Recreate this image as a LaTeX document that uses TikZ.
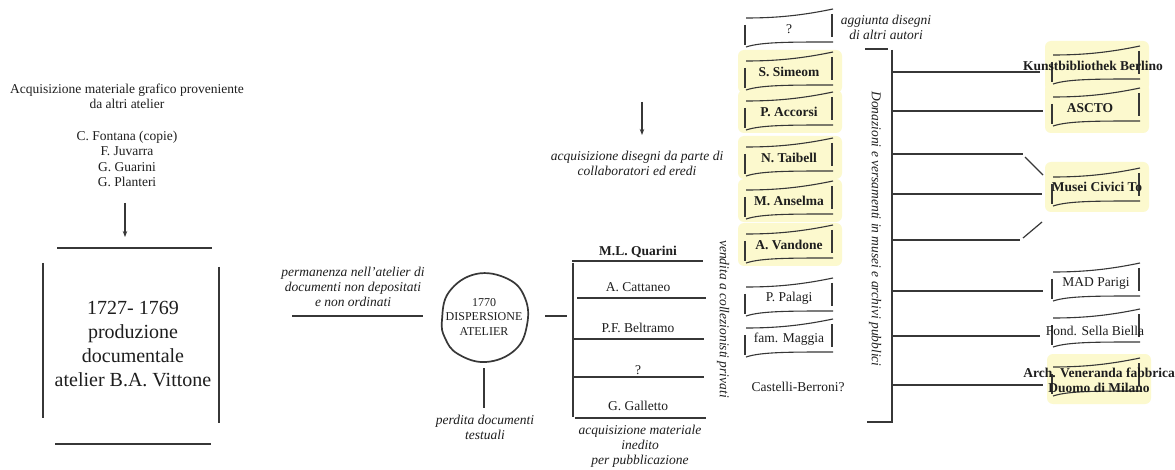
\documentclass[tikz,border=0pt]{standalone}
\usepackage{fontspec}
\setmainfont{Liberation Serif}
\usetikzlibrary{arrows.meta}
\definecolor{ink}{RGB}{30,30,30}
\definecolor{lnc}{RGB}{55,55,55}
\definecolor{hl}{RGB}{252,249,206}
\tikzset{
  txt/.style={font=\fontsize{13.5}{15.3}\selectfont, text=ink, inner sep=0pt, align=center},
  ittxt/.style={txt, font=\fontsize{13.5}{14.8}\selectfont\itshape},
  bftxt/.style={txt, font=\fontsize{13.5}{15}\selectfont\bfseries},
  bigtxt/.style={txt, font=\fontsize{20}{24}\selectfont},
  circtxt/.style={txt, font=\fontsize{12}{14.5}\selectfont},
  ln/.style={draw=lnc, line width=1.2pt},
  thick ln/.style={draw=lnc, line width=1.7pt},
  bx/.style={draw=lnc, line width=1.1pt},
  arr/.style={draw=lnc, line width=1.1pt, -{Stealth[length=6pt,width=4.5pt]}},
  hlbox/.style={fill=hl, draw=none, rounded corners=6pt},
}
\newcommand\paperbox[2]{%
  \begin{scope}[shift={(#1,#2)}]
    \draw[bx] (-43,-11) .. controls (-10,-11) and (15,-14) .. (44,-20);
    \draw[bx] (-44,-4) -- (-44,16);
    \draw[bx] (43,-15) -- (43,8);
    \draw[bx] (-43,18) .. controls (-28,13) and (0,13) .. (44,13);
  \end{scope}}
\newcommand\hlmid[2]{\fill[hlbox] ({#1-51},{#2-22}) rectangle ({#1+53},{#2+21});}
\newcommand\hlright[2]{\fill[hlbox] ({#1-51},{#2-25}) rectangle ({#1+53},{#2+25});}
\begin{document}
\begin{tikzpicture}[x=1pt,y=-1pt]
\useasboundingbox (0,0) rectangle (1175,470);
\fill[white] (0,0) rectangle (1175,470);

% ---------- highlights ----------
\hlmid{789}{72}
\hlmid{789}{112}
\hlmid{789}{158}
\hlmid{789}{201}
\hlmid{789}{245}
\hlright{1096}{66}
\hlright{1096}{108}
\hlright{1096}{187}
\hlright{1098}{379}

% ---------- left part ----------
\node[txt] (acq) at (127,96) {Acquisizione materiale grafico proveniente\\da altri atelier};
\node[txt] (autori) at (127,159) {C. Fontana (copie)\\F. Juvarra\\G. Guarini\\G. Planteri};
\coordinate (a1) at (125,203);
\coordinate (a2) at (125,237);
\draw[arr] (a1) -- (a2);

\node[bigtxt] (prod) at (133,344) {1727- 1769\\produzione\\documentale\\atelier B.A. Vittone};
\draw[ln] (57,248) -- (212,248);
\draw[ln] (55,444) -- (211,444);
\draw[ln] (43,263) -- (43,418);
\draw[ln] (219,267) -- (219,423);

% ---------- middle ----------
\node[ittxt] (perm) at (353,287) {permanenza nell'atelier di\\documenti non depositati\\e non ordinati};
\coordinate (p1) at (292,316);
\coordinate (p2) at (423,316);
\draw[ln] (p1) -- (p2);

\node[circtxt] (disp) at (484,317) {1770\\DISPERSIONE\\ATELIER};
\draw[thick ln] plot[smooth cycle, tension=0.7] coordinates {
  (442,320) (449,292) (476,274) (508,279) (525,298) (527,325)
  (515,350) (486,362) (458,354) (445,338)};
\coordinate (c1) at (484,368);
\coordinate (c2) at (484,408);
\draw[ln] (c1) -- (c2);
\node[ittxt] (perd) at (485,427) {perdita documenti\\testuali};
\coordinate (c3) at (545,316);
\coordinate (c4) at (567,316);
\draw[ln] (c3) -- (c4);

% private collectors bracket
\draw[thick ln] (573,263) -- (573,417);
\draw[ln] (572,261) -- (703,261);
\draw[ln] (577,298) -- (706,298);
\draw[ln] (573,339) -- (704,339);
\draw[ln] (573,377) -- (704,377);
\draw[ln] (575,418) -- (706,418);
\node[bftxt] (mlq) at (638,252) {M.L. Quarini};
\node[txt] (cat) at (638,287) {A. Cattaneo};
\node[txt] (bel) at (638,328) {P.F. Beltramo};
\node[txt] (q1) at (638,370) {?};
\node[txt] (gal) at (638,406) {G. Galletto};
\node[ittxt] (ined) at (640,446) {acquisizione materiale\\inedito\\per pubblicazione};
\node[ittxt, rotate=-90] (vend) at (723,319) {vendita a collezionisti privati};

% collaborators
\coordinate (m1) at (642,102);
\coordinate (m2) at (642,135);
\draw[arr] (m1) -- (m2);
\node[ittxt] (coll) at (637,163) {acquisizione disegni da parte di\\collaboratori ed eredi};

% middle column boxes
\paperbox{789}{29}
\paperbox{789}{72}
\paperbox{789}{112}
\paperbox{789}{158}
\paperbox{789}{201}
\paperbox{789}{245}
\paperbox{789}{298}
\paperbox{789}{339}
\node[txt] (q2) at (789,29) {?};
\node[bftxt] (sim) at (789,72) {S. Simeom};
\node[bftxt] (acc) at (789,112) {P. Accorsi};
\node[bftxt] (tai) at (789,158) {N. Taibell};
\node[bftxt] (ans) at (789,201) {M. Anselma};
\node[bftxt] (van) at (789,245) {A. Vandone};
\node[txt] (pal) at (789,298) {P. Palagi};
\node[txt] (mag) at (789,339) {fam. Maggia};
\node[txt] (cas) at (798,387) {Castelli-Berroni?};

\node[ittxt] (agg) at (886,27) {aggiunta disegni\\di altri autori};

% ---------- right bracket ----------
\draw[ln] (865,49) -- (888,49);
\draw[ln] (892,50) -- (892,422) -- (867,422);
\node[ittxt, rotate=-90] (don) at (875,229) {Donazioni e versamenti in musei e archivi pubblici};
\draw[ln] (892,72) -- (1040,72);
\draw[ln] (892,111) -- (1043,111);
\draw[ln] (892,154) -- (1023,154);
\draw[ln] (1025,157) -- (1043,175);
\draw[ln] (892,194) -- (1042,194);
\draw[ln] (1023,238) -- (1042,222);
\draw[ln] (892,240) -- (1020,240);
\draw[ln] (892,291) -- (1043,291);
\draw[ln] (892,336) -- (1040,336);
\draw[ln] (892,385) -- (1043,385);

% right boxes
\paperbox{1096}{66}
\paperbox{1096}{108}
\paperbox{1096}{188}
\paperbox{1096}{283}
\paperbox{1096}{329}
\paperbox{1096}{378}
\node[bftxt] (kun) at (1093,66) {Kunstbibliothek Berlino};
\node[bftxt] (asc) at (1090,108) {ASCTO};
\node[bftxt] (mus) at (1097,187) {Musei Civici To};
\node[txt] (mad) at (1096,283) {MAD Parigi};
\node[txt] (son) at (1095,331) {Fond. Sella Biella};
\node[bftxt] (arch) at (1099,380) {Arch. Veneranda fabbrica\\Duomo di Milano};
\end{tikzpicture}
\end{document}
